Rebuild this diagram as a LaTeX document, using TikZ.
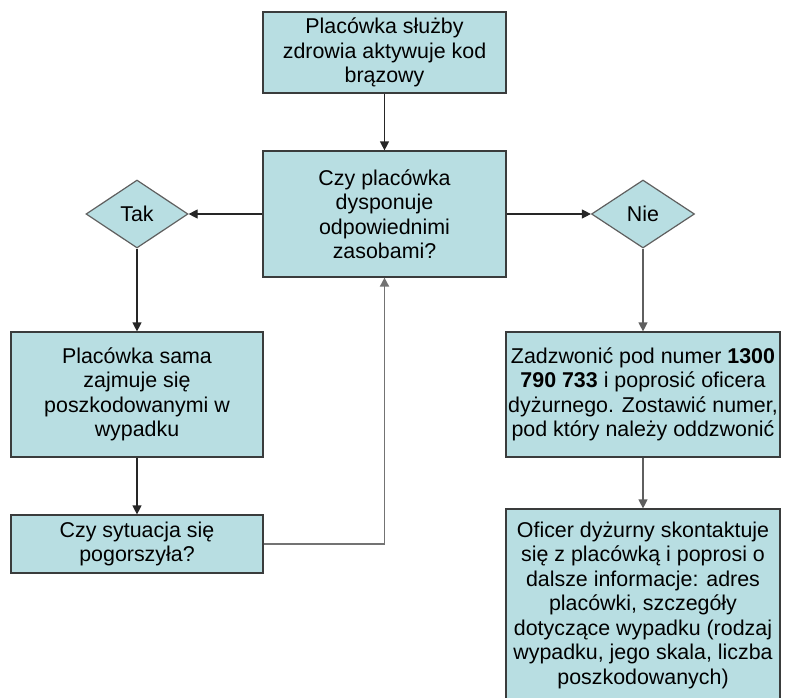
\documentclass[tikz,border=0pt]{standalone}
\usepackage{fontspec}
\setmainfont{Liberation Sans}
\usepackage{xcolor}
\usetikzlibrary{shapes.geometric}
\usetikzlibrary{arrows.meta}

\definecolor{boxfill}{RGB}{184,222,226}
\definecolor{boxline}{RGB}{58,60,60}
\definecolor{linkgray}{RGB}{95,95,95}

\begin{document}
\begin{tikzpicture}[x=1pt,y=-1pt,>={Triangle[length=9pt,width=9pt]},
                    font=\fontsize{21.4}{24.5}\selectfont]
\useasboundingbox (0,0) rectangle (786,697);

\begin{scope}[every node/.style={rectangle,draw=boxline,line width=1.2pt,
              fill=boxfill,align=center,inner sep=1pt}]
   \node[minimum width=243pt,minimum height=81pt] (start) at (384.5,52.5)
      {Placówka służby\\zdrowia aktywuje kod\\brązowy};
   \node[minimum width=243pt,minimum height=126pt] (ask) at (384.5,214)
      {Czy placówka\\dysponuje\\odpowiednimi\\zasobami?};

   \node[diamond,draw=linkgray,minimum width=102pt,minimum height=68pt] (tak) at (137,214) {Tak};
   \node[diamond,draw=linkgray,minimum width=103pt,minimum height=68pt] (nie) at (643,214) {Nie};

   \node[minimum width=252pt,minimum height=125pt] (self) at (137,394.5)
      {Placówka sama\\zajmuje się\\poszkodowanymi w\\wypadku};
   \node[minimum width=252pt,minimum height=58pt] (worse) at (137,544)
      {Czy sytuacja się\\pogorszyła?};

   \node[minimum width=274pt,minimum height=125pt] (call) at (643,394.5)
      {Zadzwonić pod numer \textbf{1300}\\\textbf{790 733} i poprosić oficera\\dyżurnego. Zostawić numer,\\pod który należy oddzwonić};
   \node[minimum width=274pt,minimum height=192pt] (officer) at (643,605)
      {Oficer dyżurny skontaktuje\\się z placówką i poprosi o\\dalsze informacje: adres\\placówki, szczegóły\\dotyczące wypadku (rodzaj\\wypadku, jego skala, liczba\\poszkodowanych)};
\end{scope}

\begin{scope}[every edge/.style={draw,line width=1.2pt,draw=black!85}]
   \path [->] (start) edge (ask);
   \path [->] (ask) edge (tak);
   \path [->] (ask) edge (nie);
   \path [->] (tak) edge (self);
   \path [->] (self) edge (worse);
   \path [->] (nie) edge[draw=linkgray] (call);
   \path [->] (call) edge[draw=linkgray] (officer);
\end{scope}
\draw [->, draw=black!55, line width=1.8pt] (worse.east) -| (ask.south);
\end{tikzpicture}
\end{document}
